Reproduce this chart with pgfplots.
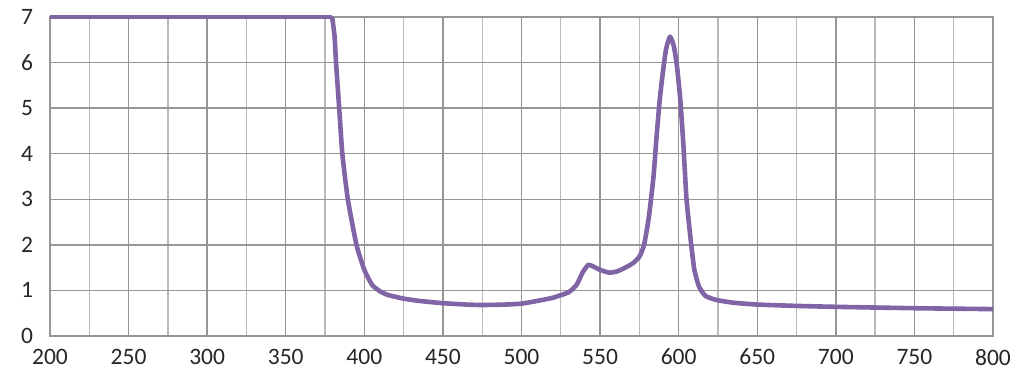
\documentclass[border=0pt]{standalone}
\usepackage{fontspec}
\setmainfont{Carlito}
\usepackage{pgfplots}
\pgfplotsset{compat=1.18}
\definecolor{curve}{RGB}{128,100,166}
\definecolor{gridc}{RGB}{150,150,150}
\definecolor{gridm}{RGB}{185,185,185}
\begin{document}
\begin{tikzpicture}
\useasboundingbox (-25bp,-25bp) rectangle (487bp,168bp);
\begin{axis}[
  scale only axis,
  width=471.5bp, height=159.5bp,
  xmin=200, xmax=800, ymin=0, ymax=7,
  xtick={200,250,...,800},
  minor xtick={225,275,...,775},
  ytick={0,1,...,7},
  grid=both,
  major grid style={draw=gridc, line width=0.7bp},
  minor grid style={draw=gridm, line width=0.7bp},
  axis line style={draw=gridc, line width=0.8bp},
  tick style={draw=none},
  major tick length=0pt, minor tick length=0pt,
  font=\fontsize{11.8}{14}\selectfont,
  ticklabel style={text=black!85},
  xticklabel style={yshift=-3bp},
  yticklabel style={xshift=-5bp},
  /pgf/number format/assume math mode=true,
  /pgf/number format/1000 sep={},
  clip=false,
]
\addplot[curve, line width=2.3bp, line join=round] coordinates {(200,7) (379.5,7)};
\addplot[curve, line width=2.3bp, smooth, tension=0.3, line join=round] coordinates {
(379.5,7) (381,6.6) (382,6.0) (384,5.0) (386,4.0) (389.5,3.0) (395,2.0) (400,1.45) (405,1.12) (410,0.98) (415,0.9) (425,0.82) (435,0.77) (450,0.72) (465,0.69) (475,0.68) (490,0.69) (500,0.71) (510,0.77) (520,0.84) (530,0.96) (535,1.12) (539,1.4) (542.5,1.56) (546,1.52) (550,1.45) (556,1.39) (561,1.42) (566,1.5) (571,1.6) (575,1.74) (578,2.0) (581,2.6) (584,3.5) (586,4.4) (588,5.2) (590,5.8) (592,6.3) (594.5,6.57) (597,6.35) (599,5.9) (601,5.2) (603,4.2) (605,3.0) (608,2.0) (610,1.45) (613,1.08) (617,0.88) (624,0.79) (635,0.73) (650,0.69) (675,0.66) (700,0.64) (750,0.61) (800,0.59)
};
\end{axis}
\end{tikzpicture}
\end{document}
